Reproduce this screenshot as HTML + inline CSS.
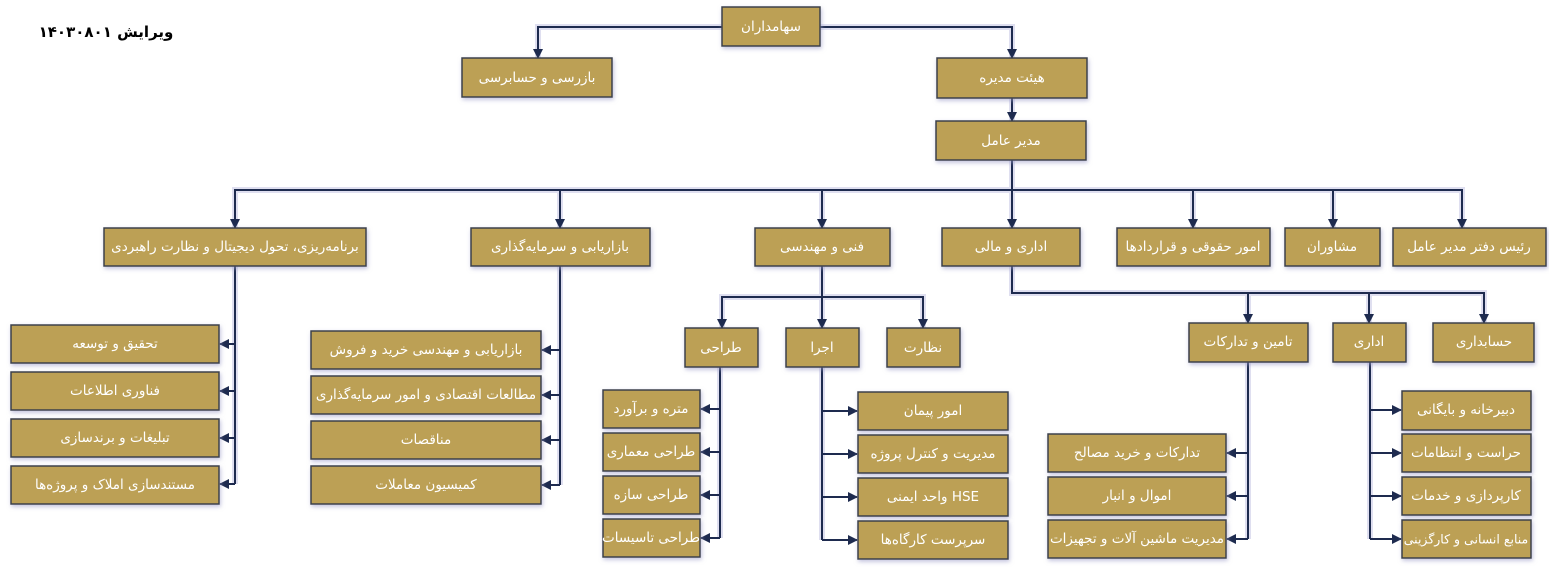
<!DOCTYPE html>
<html><head><meta charset="utf-8"><style>
html,body{margin:0;padding:0;background:#fff;}
svg{display:block;}
text{font-family:"DejaVu Sans","Liberation Sans",sans-serif;font-size:13.5px;fill:#fff;text-anchor:middle;dominant-baseline:central;}
.b{fill:#bca055;stroke:#3a3f4a;stroke-width:1.5;filter:url(#sh);}
.g{fill:none;stroke:#c9c9e6;stroke-width:6;opacity:.6;}
.l{fill:none;stroke:#1e2b4f;stroke-width:2;}
</style></head><body>
<svg width="1549" height="577" viewBox="0 0 1549 577" xmlns="http://www.w3.org/2000/svg">
<defs>
<filter id="sh" x="-10%" y="-20%" width="120%" height="150%"><feDropShadow dx="1" dy="2" stdDeviation="2" flood-color="#9a9ac8" flood-opacity="0.6"/></filter>
<marker id="a" markerWidth="10" markerHeight="10" refX="9" refY="5" orient="auto" markerUnits="userSpaceOnUse"><path d="M0,0 L10,5 L0,10 z" fill="#1e2b4f"/></marker>
</defs>
<g id="lines">
<path d="M722,27 H538 V58 M820,27 H1012 V58 M1012,98 V121 M1012,160 V228 M1012,190 H235 V228 M560,190 V228 M822,190 V228 M1012,190 H1462 V228 M1193,190 V228 M1333,190 V228
M1012,266 V293 H1484 V323 M1248,293 V323 M1369,293 V323
M822,266 V297 H722 V328 M822,297 V328 M822,297 H923 V328
M235,266 V484 M560,266 V485 M720,367 V538 M822,367 V540 M1248,362 V539 M1370,362 V539" class="g"/>
<path class="l" d="M235,266 V484 M560,266 V485 M720,367 V538 M822,367 V540 M1248,362 V539 M1370,362 V539"/>
<g class="l" marker-end="url(#a)">
<path d="M722,27 H538 V58"/><path d="M820,27 H1012 V58"/><path d="M1012,98 V121"/>
<path d="M1012,160 V190 H235 V228"/><path d="M560,190 V228"/><path d="M822,190 V228"/><path d="M1012,160 V228"/>
<path d="M1012,190 H1462 V228"/><path d="M1193,190 V228"/><path d="M1333,190 V228"/>
<path d="M1012,266 V293 H1484 V323"/><path d="M1248,293 V323"/><path d="M1369,293 V323"/>
<path d="M822,266 V297 H722 V328"/><path d="M822,297 V328"/><path d="M822,297 H923 V328"/>
<path d="M235,344 H220"/><path d="M235,391 H220"/><path d="M235,438 H220"/><path d="M235,484 H220"/>
<path d="M560,350 H542"/><path d="M560,395 H542"/><path d="M560,440 H542"/><path d="M560,485 H542"/>
<path d="M720,409 H701"/><path d="M720,452 H701"/><path d="M720,495 H701"/><path d="M720,538 H701"/>
<path d="M822,411 H857"/><path d="M822,454 H857"/><path d="M822,497 H857"/><path d="M822,540 H857"/>
<path d="M1248,453 H1227"/><path d="M1248,496 H1227"/><path d="M1248,539 H1227"/>
<path d="M1370,410 H1401"/><path d="M1370,453 H1401"/><path d="M1370,496 H1401"/><path d="M1370,539 H1401"/>
</g>
</g>
<text x="106" y="32" style="fill:#000;font-weight:bold;font-size:15px">ویرایش ۱۴۰۳۰۸۰۱</text>
<g>
<rect class="b" x="722" y="7" width="98" height="39"/><text x="771" y="27">سهامداران</text>
<rect class="b" x="462" y="58" width="150" height="39"/><text x="537" y="78">بازرسی و حسابرسی</text>
<rect class="b" x="937" y="58" width="150" height="40"/><text x="1012" y="78">هیئت مدیره</text>
<rect class="b" x="936" y="121" width="150" height="39"/><text x="1011" y="141">مدیر عامل</text>

<rect class="b" x="104" y="228" width="262" height="38"/><text x="235" y="247">برنامه‌ریزی، تحول دیجیتال و نظارت راهبردی</text>
<rect class="b" x="471" y="228" width="179" height="38"/><text x="560" y="247">بازاریابی و سرمایه‌گذاری</text>
<rect class="b" x="755" y="228" width="135" height="38"/><text x="822" y="247">فنی و مهندسی</text>
<rect class="b" x="942" y="228" width="138" height="38"/><text x="1011" y="247">اداری و مالی</text>
<rect class="b" x="1117" y="228" width="153" height="38"/><text x="1193" y="247">امور حقوقی و قراردادها</text>
<rect class="b" x="1285" y="228" width="95" height="38"/><text x="1332" y="247">مشاوران</text>
<rect class="b" x="1393" y="228" width="153" height="38"/><text x="1469" y="247">رئیس دفتر مدیر عامل</text>

<rect class="b" x="685" y="328" width="73" height="39"/><text x="721" y="348">طراحی</text>
<rect class="b" x="786" y="328" width="73" height="39"/><text x="822" y="348">اجرا</text>
<rect class="b" x="887" y="328" width="73" height="39"/><text x="923" y="348">نظارت</text>
<rect class="b" x="1189" y="323" width="119" height="39"/><text x="1248" y="342">تامین و تدارکات</text>
<rect class="b" x="1333" y="323" width="73" height="39"/><text x="1369" y="342">اداری</text>
<rect class="b" x="1433" y="323" width="101" height="39"/><text x="1484" y="342">حسابداری</text>

<rect class="b" x="11" y="325" width="208" height="38"/><text x="115" y="344">تحقیق و توسعه</text>
<rect class="b" x="11" y="372" width="208" height="38"/><text x="115" y="391">فناوری اطلاعات</text>
<rect class="b" x="11" y="419" width="208" height="38"/><text x="115" y="438">تبلیغات و برندسازی</text>
<rect class="b" x="11" y="466" width="208" height="38"/><text x="115" y="485">مستندسازی املاک و پروژه‌ها</text>

<rect class="b" x="311" y="331" width="230" height="38"/><text x="426" y="350">بازاریابی و مهندسی خرید و فروش</text>
<rect class="b" x="311" y="376" width="230" height="38"/><text x="426" y="395">مطالعات اقتصادی و امور سرمایه‌گذاری</text>
<rect class="b" x="311" y="421" width="230" height="38"/><text x="426" y="440">مناقصات</text>
<rect class="b" x="311" y="466" width="230" height="38"/><text x="426" y="485">کمیسیون معاملات</text>

<rect class="b" x="603" y="390" width="97" height="38"/><text x="651" y="409">متره و برآورد</text>
<rect class="b" x="603" y="433" width="97" height="38"/><text x="651" y="452">طراحی معماری</text>
<rect class="b" x="603" y="476" width="97" height="38"/><text x="651" y="495">طراحی سازه</text>
<rect class="b" x="603" y="519" width="97" height="38"/><text x="651" y="538">طراحی تاسیسات</text>

<rect class="b" x="858" y="392" width="150" height="38"/><text x="933" y="411">امور پیمان</text>
<rect class="b" x="858" y="435" width="150" height="38"/><text x="933" y="454">مدیریت و کنترل پروژه</text>
<rect class="b" x="858" y="478" width="150" height="38"/><text x="933" y="497">واحد ایمنی HSE</text>
<rect class="b" x="858" y="521" width="150" height="38"/><text x="933" y="540">سرپرست کارگاه‌ها</text>

<rect class="b" x="1048" y="434" width="178" height="38"/><text x="1137" y="453">تدارکات و خرید مصالح</text>
<rect class="b" x="1048" y="477" width="178" height="38"/><text x="1137" y="496">اموال و انبار</text>
<rect class="b" x="1048" y="520" width="178" height="38"/><text x="1137" y="539">مدیریت ماشین آلات و تجهیزات</text>

<rect class="b" x="1402" y="391" width="129" height="39"/><text x="1466" y="410">دبیرخانه و بایگانی</text>
<rect class="b" x="1402" y="434" width="129" height="38"/><text x="1466" y="453">حراست و انتظامات</text>
<rect class="b" x="1402" y="477" width="129" height="38"/><text x="1466" y="496">کارپردازی و خدمات</text>
<rect class="b" x="1402" y="520" width="129" height="38"/><text x="1466" y="539" style="font-size:12.5px">منابع انسانی و کارگزینی</text>
</g>
</svg>
</body></html>
